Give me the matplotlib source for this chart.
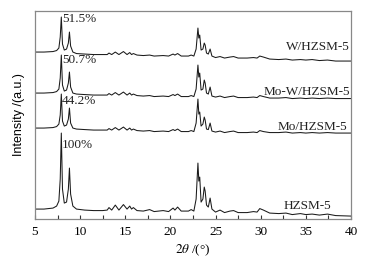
import matplotlib
matplotlib.use("Agg")
import matplotlib.pyplot as plt
from matplotlib.ticker import MultipleLocator

# 2theta grid shared by all four patterns
two_theta = [5.0, 6.0, 7.0, 7.4, 7.65, 7.8, 7.92, 8.05, 8.25, 8.5, 8.7, 8.82, 8.95, 9.2, 9.6,
             10.5, 11.5, 12.5, 13.0, 13.2, 13.5, 13.9, 14.3, 14.8, 15.2, 15.5, 15.7, 15.9, 16.3,
             17.0, 17.7, 18.2, 19.2, 19.8, 20.3, 20.5, 20.8, 21.2, 22.0, 22.3, 22.6, 22.85,
             23.05, 23.15, 23.25, 23.4, 23.6, 23.75, 23.85, 24.0, 24.2, 24.4, 24.6, 25.0, 25.5,
             26.0, 26.6, 27.0, 27.5, 28.5, 29.2, 29.6, 29.9, 30.3, 31.0, 32.0, 32.8, 33.5, 34.4,
             35.0, 35.7, 36.5, 37.4, 38.3, 40.0]

hzsm5 = [10, 10, 11, 13, 18, 40, 86, 30, 16, 17, 30, 51, 25, 13, 10,
         9, 8.5, 8.5, 9, 11.5, 9, 14, 9, 14.5, 10, 13, 10, 11.5, 8.5,
         8, 9.5, 7.5, 8.5, 7.5, 11, 9, 12, 8, 8, 9.5, 8, 20,
         56, 38, 42, 17, 20, 32, 28, 14, 12, 21, 10, 7, 9,
         6.5, 8, 8.5, 6.5, 6.5, 7.5, 7, 10.5, 9, 6, 5.5, 6, 4.5, 5.5,
         4.5, 5, 4, 5, 3.5, 3]

mo_hzsm5 = [11, 11, 11.5, 12.5, 15, 24, 45, 18, 13, 14, 20, 31, 16, 11, 10,
            9.5, 9, 9, 9, 10.5, 9, 11.5, 9, 12, 9, 11, 9, 10, 8.5,
            8, 8.5, 7.5, 8, 7.5, 9.5, 8.5, 10, 7.5, 7.5, 8.5, 7.5, 16,
            40, 25, 27, 13, 15, 22, 19, 10, 9.5, 16, 8, 7, 8,
            6.5, 7.5, 8, 6.5, 6.5, 7, 6.5, 8.5, 7.5, 6.5, 6.5, 7, 6, 6.5,
            6, 6.5, 6, 6.5, 6, 6]

mow_hzsm5 = [11, 11, 11.5, 12.5, 15, 26, 49, 19, 13, 14, 21, 32, 17, 11, 10,
             9.5, 9, 9, 9, 10.5, 9, 11.5, 9, 12, 9, 11, 9, 10, 8.5,
             8, 8.5, 7.5, 8, 7.5, 9.5, 8.5, 10, 7.5, 7.5, 8.5, 7.5, 15,
             39, 27, 31, 14, 15, 24, 21, 11, 10, 17, 8, 7, 8,
             6.5, 7.5, 8, 6.5, 6.5, 7, 6.5, 8.5, 7.5, 6, 6, 6.5, 5.5, 6,
             5.5, 6, 5.5, 6, 5.5, 5.5]

w_hzsm5 = [12, 12, 12.5, 13.5, 16, 27, 47, 20, 14, 15, 21, 32, 18, 12, 10.5,
           10, 9.5, 9.5, 9.5, 11, 9.5, 12, 9.5, 12.5, 9.5, 11.5, 9.5, 10.5, 9,
           8.5, 9, 8, 8.5, 8, 10, 9, 10.5, 8, 8, 9, 8, 15,
           36, 26, 29, 14, 15, 21, 19, 11, 10, 15, 8, 6.5, 7.5,
           6, 7, 7.5, 6, 6, 6.5, 6, 8, 7, 5, 4.5, 5, 4, 4.5,
           4, 4.5, 3.5, 4, 3, 3]

names = ["HZSM-5", "Mo/HZSM-5", "Mo-W/HZSM-5", "W/HZSM-5"]
patterns = [hzsm5, mo_hzsm5, mow_hzsm5, w_hzsm5]
offsets = [0, 80, 115, 155]
rel_cryst = ["100%", "44.2%", "50.7%", "51.5%"]

plt.rcParams['font.family'] = ['Liberation Serif', 'DejaVu Serif']
plt.rcParams['mathtext.fontset'] = 'stix'

fig = plt.figure(figsize=(3.84, 2.63), dpi=100)
ax = fig.add_axes([0.091, 0.167, 0.823, 0.791])

for y, off in zip(patterns, offsets):
    ax.plot(two_theta, [v + off for v in y], color='#1a1a1a', lw=0.75)

# crystallinity labels next to the 7.9 deg peak
cryst_y = [74, 118, 159, 200]
for txt, ty in zip(rel_cryst, cryst_y):
    ax.text(8.0, ty, txt, fontsize=9.5, va='center', ha='left', color='#222222')

# sample names on the right
name_pos = [(37.8, 13), (39.6, 92), (39.9, 127), (39.9, 172)]
for txt, (nx, ny) in zip(names, name_pos):
    ax.text(nx, ny, txt, fontsize=9.5, va='center', ha='right', color='#222222')

ax.set_xlim(5, 40)
ax.set_ylim(0, 208)
ax.xaxis.set_major_locator(MultipleLocator(5))
ax.xaxis.set_minor_locator(MultipleLocator(2.5))
ax.tick_params(axis='x', which='both', direction='in', length=3, width=0.8,
               top=False, labelsize=9.5, pad=5, color='#333333')
ax.set_yticks([])
for s in ax.spines.values():
    s.set_color('#888888')
    s.set_linewidth(0.9)

ax.set_xlabel(r'$2\theta$ /(°)', fontsize=9.5, labelpad=3)
ax.set_ylabel('Intensity /(a.u.)', fontsize=9, family=['Liberation Sans', 'DejaVu Sans'],
              labelpad=7)

fig.savefig('out.png', dpi=100)
